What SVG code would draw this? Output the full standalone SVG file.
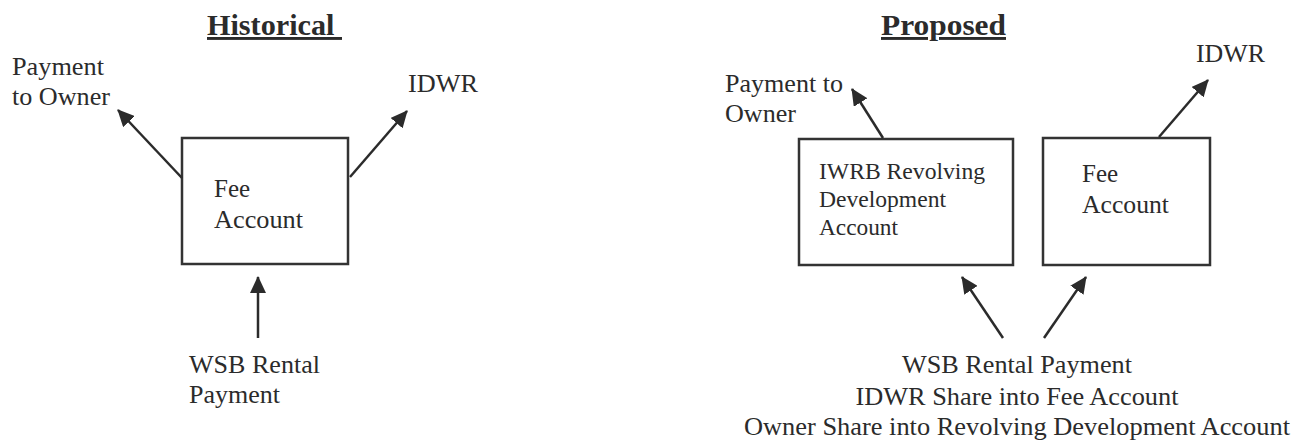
<svg xmlns="http://www.w3.org/2000/svg" width="1308" height="441" viewBox="0 0 1308 441">
<style>
text{font-family:"Liberation Serif","Times New Roman",serif;fill:#2b2b2b;font-size:25px}
.title{font-weight:bold;font-size:29px;text-decoration:underline}
.box{fill:#fff;stroke:#333;stroke-width:2.5}
.conn line{stroke:#2b2b2b;stroke-width:2.5;marker-end:url(#ah)}
.sm{font-size:24px}
</style>
<defs>
<marker id="ah" markerUnits="userSpaceOnUse" markerWidth="17" markerHeight="16" refX="16" refY="8" orient="auto">
<path d="M0,0 L17,8 L0,16 z" fill="#2b2b2b"/>
</marker>
</defs>
<rect width="1308" height="441" fill="#fff"/>
<g id="titles">
<text class="title" x="207" y="35" xml:space="preserve" textLength="135" lengthAdjust="spacingAndGlyphs">Historical </text>
<text class="title" x="881" y="35" textLength="125" lengthAdjust="spacingAndGlyphs">Proposed</text>
</g>
<g id="h-fee">
<rect class="box" x="182" y="138" width="166" height="126"/>
<text x="214" y="197">Fee</text>
<text x="214" y="228" textLength="89" lengthAdjust="spacingAndGlyphs">Account</text>
</g>
<g id="h-owner">
<text x="12" y="75" textLength="92" lengthAdjust="spacingAndGlyphs">Payment</text>
<text x="12" y="105" textLength="98" lengthAdjust="spacingAndGlyphs">to Owner</text>
</g>
<g id="h-idwr">
<text x="408" y="92" textLength="70" lengthAdjust="spacingAndGlyphs">IDWR</text>
</g>
<g id="h-wsb">
<text x="189" y="373" textLength="131" lengthAdjust="spacingAndGlyphs">WSB Rental</text>
<text x="189" y="403" textLength="91" lengthAdjust="spacingAndGlyphs">Payment</text>
</g>
<g id="p-iwrb">
<rect class="box" x="799" y="139" width="214" height="126"/>
<text class="sm" x="819" y="179" textLength="166" lengthAdjust="spacingAndGlyphs">IWRB Revolving</text>
<text class="sm" x="819" y="207" textLength="127" lengthAdjust="spacingAndGlyphs">Development</text>
<text class="sm" x="819" y="235" textLength="79" lengthAdjust="spacingAndGlyphs">Account</text>
</g>
<g id="p-fee">
<rect class="box" x="1043" y="138" width="167" height="127"/>
<text x="1082" y="182">Fee</text>
<text x="1082" y="213" textLength="87" lengthAdjust="spacingAndGlyphs">Account</text>
</g>
<g id="p-owner">
<text x="725" y="92" textLength="118" lengthAdjust="spacingAndGlyphs">Payment to</text>
<text x="725" y="122" textLength="71" lengthAdjust="spacingAndGlyphs">Owner</text>
</g>
<g id="p-idwr">
<text x="1196" y="62" textLength="69" lengthAdjust="spacingAndGlyphs">IDWR</text>
</g>
<g id="p-wsb">
<text x="1017" y="373" text-anchor="middle" textLength="230" lengthAdjust="spacingAndGlyphs">WSB Rental Payment</text>
<text x="1017" y="405" text-anchor="middle" textLength="323" lengthAdjust="spacingAndGlyphs">IDWR Share into Fee Account</text>
<text x="1017" y="435" text-anchor="middle" textLength="546" lengthAdjust="spacingAndGlyphs">Owner Share into Revolving Development Account</text>
</g>
<g id="connectors" class="conn">
<line x1="182" y1="178" x2="118" y2="110"/>
<line x1="350" y1="177" x2="407" y2="111"/>
<line x1="258" y1="338" x2="258" y2="277"/>
<line x1="883" y1="138" x2="852" y2="89"/>
<line x1="1159" y1="137" x2="1208" y2="80"/>
<line x1="1003" y1="338" x2="962" y2="277"/>
<line x1="1044" y1="338" x2="1086" y2="277"/>
</g>
</svg>
